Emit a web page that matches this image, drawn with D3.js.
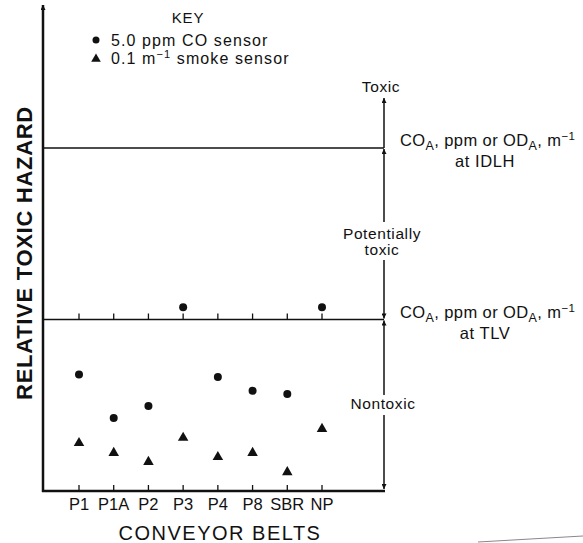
<!DOCTYPE html>
<html>
<head>
<meta charset="utf-8">
<script src="https://cdn.jsdelivr.net/npm/d3@7"></script>
<style>
  body { margin: 0; background: #fff; }
  text { font-family: "Liberation Sans", Arial, sans-serif; fill: #111; }
</style>
</head>
<body>
<div id="chart"></div>
<script>
// conveyor belt samples and relative hazard readings (TLV = 50, IDLH = 100)
var belts = ["P1", "P1A", "P2", "P3", "P4", "P8", "SBR", "NP"];
var coValues = [34, 21.3, 24.8, 53.6, 33.2, 29.2, 28.3, 53.6];
var smokeValues = [14, 11.1, 8.5, 15.5, 9.9, 11.1, 5.5, 18.1];
var levels = [
  { name: "TLV", value: 50 },
  { name: "IDLH", value: 100 }
];

var width = 583,
  height = 543;

var svg = d3.select("#chart").append("svg")
  .attr("width", width)
  .attr("height", height);

var x = d3.scalePoint()
  .domain(belts)
  .range([79, 322]);

var y = d3.scaleLinear()
  .domain([0, 100])
  .range([491, 148]);

var axisLeft = 43,
  axisRight = 384,
  ink = "#111";

// arrow head used on every arrow
var defs = svg.append("defs");
defs.append("marker")
  .attr("id", "head")
  .attr("viewBox", "0 0 10 10")
  .attr("refX", 10)
  .attr("refY", 5)
  .attr("markerUnits", "userSpaceOnUse")
  .attr("markerWidth", 10)
  .attr("markerHeight", 5)
  .attr("orient", "auto")
  .append("path")
  .attr("d", "M0,0L10,5L0,10Z")
  .attr("fill", ink);

// y axis with arrow on top
svg.append("line")
  .attr("x1", axisLeft).attr("y1", y(0) + 1)
  .attr("x2", axisLeft).attr("y2", 5)
  .attr("stroke", ink).attr("stroke-width", 2.5)
  .attr("marker-end", "url(#head)");

// x axis
svg.append("line")
  .attr("x1", axisLeft - 1).attr("y1", y(0))
  .attr("x2", axisRight + 1).attr("y2", y(0))
  .attr("stroke", ink).attr("stroke-width", 2.5);

// TLV / IDLH lines
svg.selectAll(".level")
  .data(levels)
  .enter().append("line")
  .attr("class", "level")
  .attr("x1", axisLeft).attr("x2", axisRight)
  .attr("y1", function(d) { return y(d.value); })
  .attr("y2", function(d) { return y(d.value); })
  .attr("stroke", ink).attr("stroke-width", 1.6);

// small ticks on x axis and on TLV line
[0, 50].forEach(function(v) {
  svg.selectAll(null)
    .data(belts)
    .enter().append("line")
    .attr("x1", function(d) { return x(d); })
    .attr("x2", function(d) { return x(d); })
    .attr("y1", y(v))
    .attr("y2", y(v) - 6)
    .attr("stroke", ink).attr("stroke-width", 1.3);
});

// tick labels
svg.selectAll(".belt")
  .data(belts)
  .enter().append("text")
  .attr("class", "belt")
  .attr("x", function(d) { return x(d); })
  .attr("y", 510)
  .attr("text-anchor", "middle")
  .style("font-size", "16.5px")
  .text(function(d) { return d; });

svg.append("text")
  .attr("x", 220)
  .attr("y", 540)
  .attr("text-anchor", "middle")
  .style("font-size", "20px")
  .style("letter-spacing", "1.5px")
  .text("CONVEYOR BELTS");

svg.append("text")
  .attr("transform", "translate(32,253) rotate(-90)")
  .attr("text-anchor", "middle")
  .style("font-size", "22px")
  .style("font-weight", "bold")
  .style("letter-spacing", "0.7px")
  .text("RELATIVE TOXIC HAZARD");

// data points
svg.selectAll(".co")
  .data(coValues)
  .enter().append("circle")
  .attr("class", "co")
  .attr("cx", function(d, i) { return x(belts[i]); })
  .attr("cy", function(d) { return y(d); })
  .attr("r", 4)
  .attr("fill", ink);

var tri = d3.symbol().type(d3.symbolTriangle).size(48);
svg.selectAll(".smoke")
  .data(smokeValues)
  .enter().append("path")
  .attr("class", "smoke")
  .attr("d", tri)
  .attr("transform", function(d, i) {
    return "translate(" + x(belts[i]) + "," + y(d) + ")";
  })
  .attr("fill", ink);

// legend
var key = svg.append("g");
key.append("text")
  .attr("x", 188).attr("y", 23)
  .attr("text-anchor", "middle")
  .style("font-size", "15px")
  .style("letter-spacing", "0.8px")
  .text("KEY");
key.append("circle")
  .attr("cx", 96).attr("cy", 40).attr("r", 3.5)
  .attr("fill", ink);
key.append("text")
  .attr("x", 111).attr("y", 46)
  .style("font-size", "16px")
  .style("letter-spacing", "1.1px")
  .text("5.0 ppm CO sensor");
key.append("path")
  .attr("d", d3.symbol().type(d3.symbolTriangle).size(40))
  .attr("transform", "translate(96,59)")
  .attr("fill", ink);
var smokeLabel = key.append("text")
  .attr("x", 111).attr("y", 64)
  .style("font-size", "16px")
  .style("letter-spacing", "1.1px");
smokeLabel.append("tspan").text("0.1 m");
smokeLabel.append("tspan").attr("dy", -6).style("font-size", "11px").text("\u22121");
smokeLabel.append("tspan").attr("dy", 6).text(" smoke sensor");

// right side arrows between hazard zones
var arrows = [
  { from: y(100), to: 98 },
  { from: 222, to: y(100) + 1 },
  { from: 260, to: y(50) - 1 },
  { from: 395, to: y(50) + 1 },
  { from: 415, to: y(0) - 2 }
];
svg.selectAll(".zone")
  .data(arrows)
  .enter().append("line")
  .attr("class", "zone")
  .attr("x1", axisRight).attr("x2", axisRight)
  .attr("y1", function(d) { return d.from; })
  .attr("y2", function(d) { return d.to; })
  .attr("stroke", ink).attr("stroke-width", 1.5)
  .attr("marker-end", "url(#head)");

function zoneText(lines, cx, y0) {
  lines.forEach(function(s, i) {
    svg.append("text")
      .attr("x", cx).attr("y", y0 + i * 16)
      .attr("text-anchor", "middle")
      .style("font-size", "15.5px")
      .style("letter-spacing", "0.6px")
      .text(s);
  });
}
zoneText(["Toxic"], 381, 92);
zoneText(["Potentially", "toxic"], 382, 239);
zoneText(["Nontoxic"], 383, 409);

function levelText(yBase, name) {
  var t = svg.append("text")
    .attr("x", 400).attr("y", yBase)
    .style("font-size", "16.5px")
    .style("letter-spacing", "0.4px");
  t.append("tspan").text("CO");
  t.append("tspan").attr("dy", 4).style("font-size", "12.5px").text("A");
  t.append("tspan").attr("dy", -4).text(", ppm or OD");
  t.append("tspan").attr("dy", 4).style("font-size", "12.5px").text("A");
  t.append("tspan").attr("dy", -4).text(", m");
  t.append("tspan").attr("dy", -6).style("font-size", "11.5px").text("\u22121");
  svg.append("text")
    .attr("x", 485).attr("y", yBase + 21)
    .attr("text-anchor", "middle")
    .style("font-size", "16.5px")
    .style("letter-spacing", "0.6px")
    .text("at " + name);
}
levelText(146, "IDLH");
levelText(318, "TLV");

// faint scan edge bottom right
svg.append("line")
  .attr("x1", 478).attr("y1", 542)
  .attr("x2", 583).attr("y2", 536)
  .attr("stroke", "#888").attr("stroke-width", 1);
</script>
</body>
</html>
